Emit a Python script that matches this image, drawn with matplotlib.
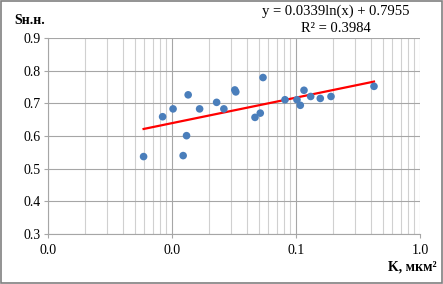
import numpy as np
import matplotlib.pyplot as plt
from matplotlib.ticker import FixedLocator, FuncFormatter, NullFormatter

# permeability K, mkm^2 and S values
k_vals = [0.0059, 0.0084, 0.0102, 0.0123, 0.0131, 0.0135, 0.0167, 0.0229, 0.0262,
          0.0321, 0.0327, 0.0467, 0.0515, 0.0542, 0.0815, 0.1018, 0.1083, 0.116,
          0.1313, 0.157, 0.1915, 0.4256]
s_vals = [0.537, 0.659, 0.683, 0.540, 0.601, 0.726, 0.683, 0.703, 0.683,
          0.741, 0.735, 0.657, 0.670, 0.779, 0.711, 0.711, 0.694, 0.740,
          0.721, 0.715, 0.721, 0.752]

coef_a = 0.0339
coef_b = 0.7955
r2 = 0.3984
y_ticks = [0.3, 0.4, 0.5, 0.6, 0.7, 0.8, 0.9]
x_decades = [0.001, 0.01, 0.1, 1.0]

plt.rcParams['font.family'] = ['Liberation Serif', 'DejaVu Serif']

fig = plt.figure(figsize=(4.43, 2.84), dpi=100)
ax = fig.add_axes([48 / 443, 1 - 234 / 284, (420 - 48) / 443, (234 - 38) / 284])

ax.set_xscale('log')
ax.set_xlim(0.001, 1.0)
ax.set_ylim(0.3, 0.9)

ax.xaxis.set_major_locator(FixedLocator(x_decades))
minors = [m * d for d in x_decades[:-1] for m in range(2, 10)]
ax.xaxis.set_minor_locator(FixedLocator(minors))
ax.xaxis.set_major_formatter(FuncFormatter(lambda v, p: '%.1f' % v))
ax.xaxis.set_minor_formatter(NullFormatter())
ax.set_yticks(y_ticks)
ax.yaxis.set_major_formatter(FuncFormatter(lambda v, p: '%.1f' % v))

ax.grid(True, which='major', axis='both', color='#a6a6a6', lw=0.8)
ax.grid(True, which='minor', axis='x', color='#d0d0d0', lw=0.8)
ax.set_axisbelow(True)

for s in ['top', 'right']:
    ax.spines[s].set_visible(False)
for s in ['left', 'bottom']:
    ax.spines[s].set_color('#a6a6a6')
    ax.spines[s].set_linewidth(0.8)
ax.tick_params(which='major', length=3, color='#a6a6a6', labelsize=10, pad=2)
ax.tick_params(which='minor', length=0)
ax.tick_params(axis='x', pad=4)

ax.scatter(k_vals, s_vals, s=30, color='#4a7ebb', zorder=3, edgecolors='none')

xs = np.logspace(np.log10(min(k_vals)), np.log10(max(k_vals)), 100)
ax.plot(xs, coef_a * np.log(xs) + coef_b, color='#ff0000', lw=1.6, zorder=2)

fig.text(336 / 443, 1 - 11 / 284, 'y = %.4fln(x) + %.4f' % (coef_a, coef_b),
         ha='center', va='center', fontsize=10.5)
fig.text(336 / 443, 1 - 28 / 284, 'R² = %.4f' % r2, ha='center', va='center', fontsize=10.5)
fig.text(14 / 443, 1 - 20 / 284, 'Sн.н.', ha='left', va='center', fontsize=10, fontweight='bold')
fig.text(437 / 443, 1 - 267 / 284, 'K, мкм²', ha='right', va='center', fontsize=10, fontweight='bold')

fig.patches.append(plt.Rectangle((0.002, 0.003), 0.996, 0.994, transform=fig.transFigure,
                                 fill=False, edgecolor='#808080', lw=1.2))

fig.savefig('out.png', dpi=100)
